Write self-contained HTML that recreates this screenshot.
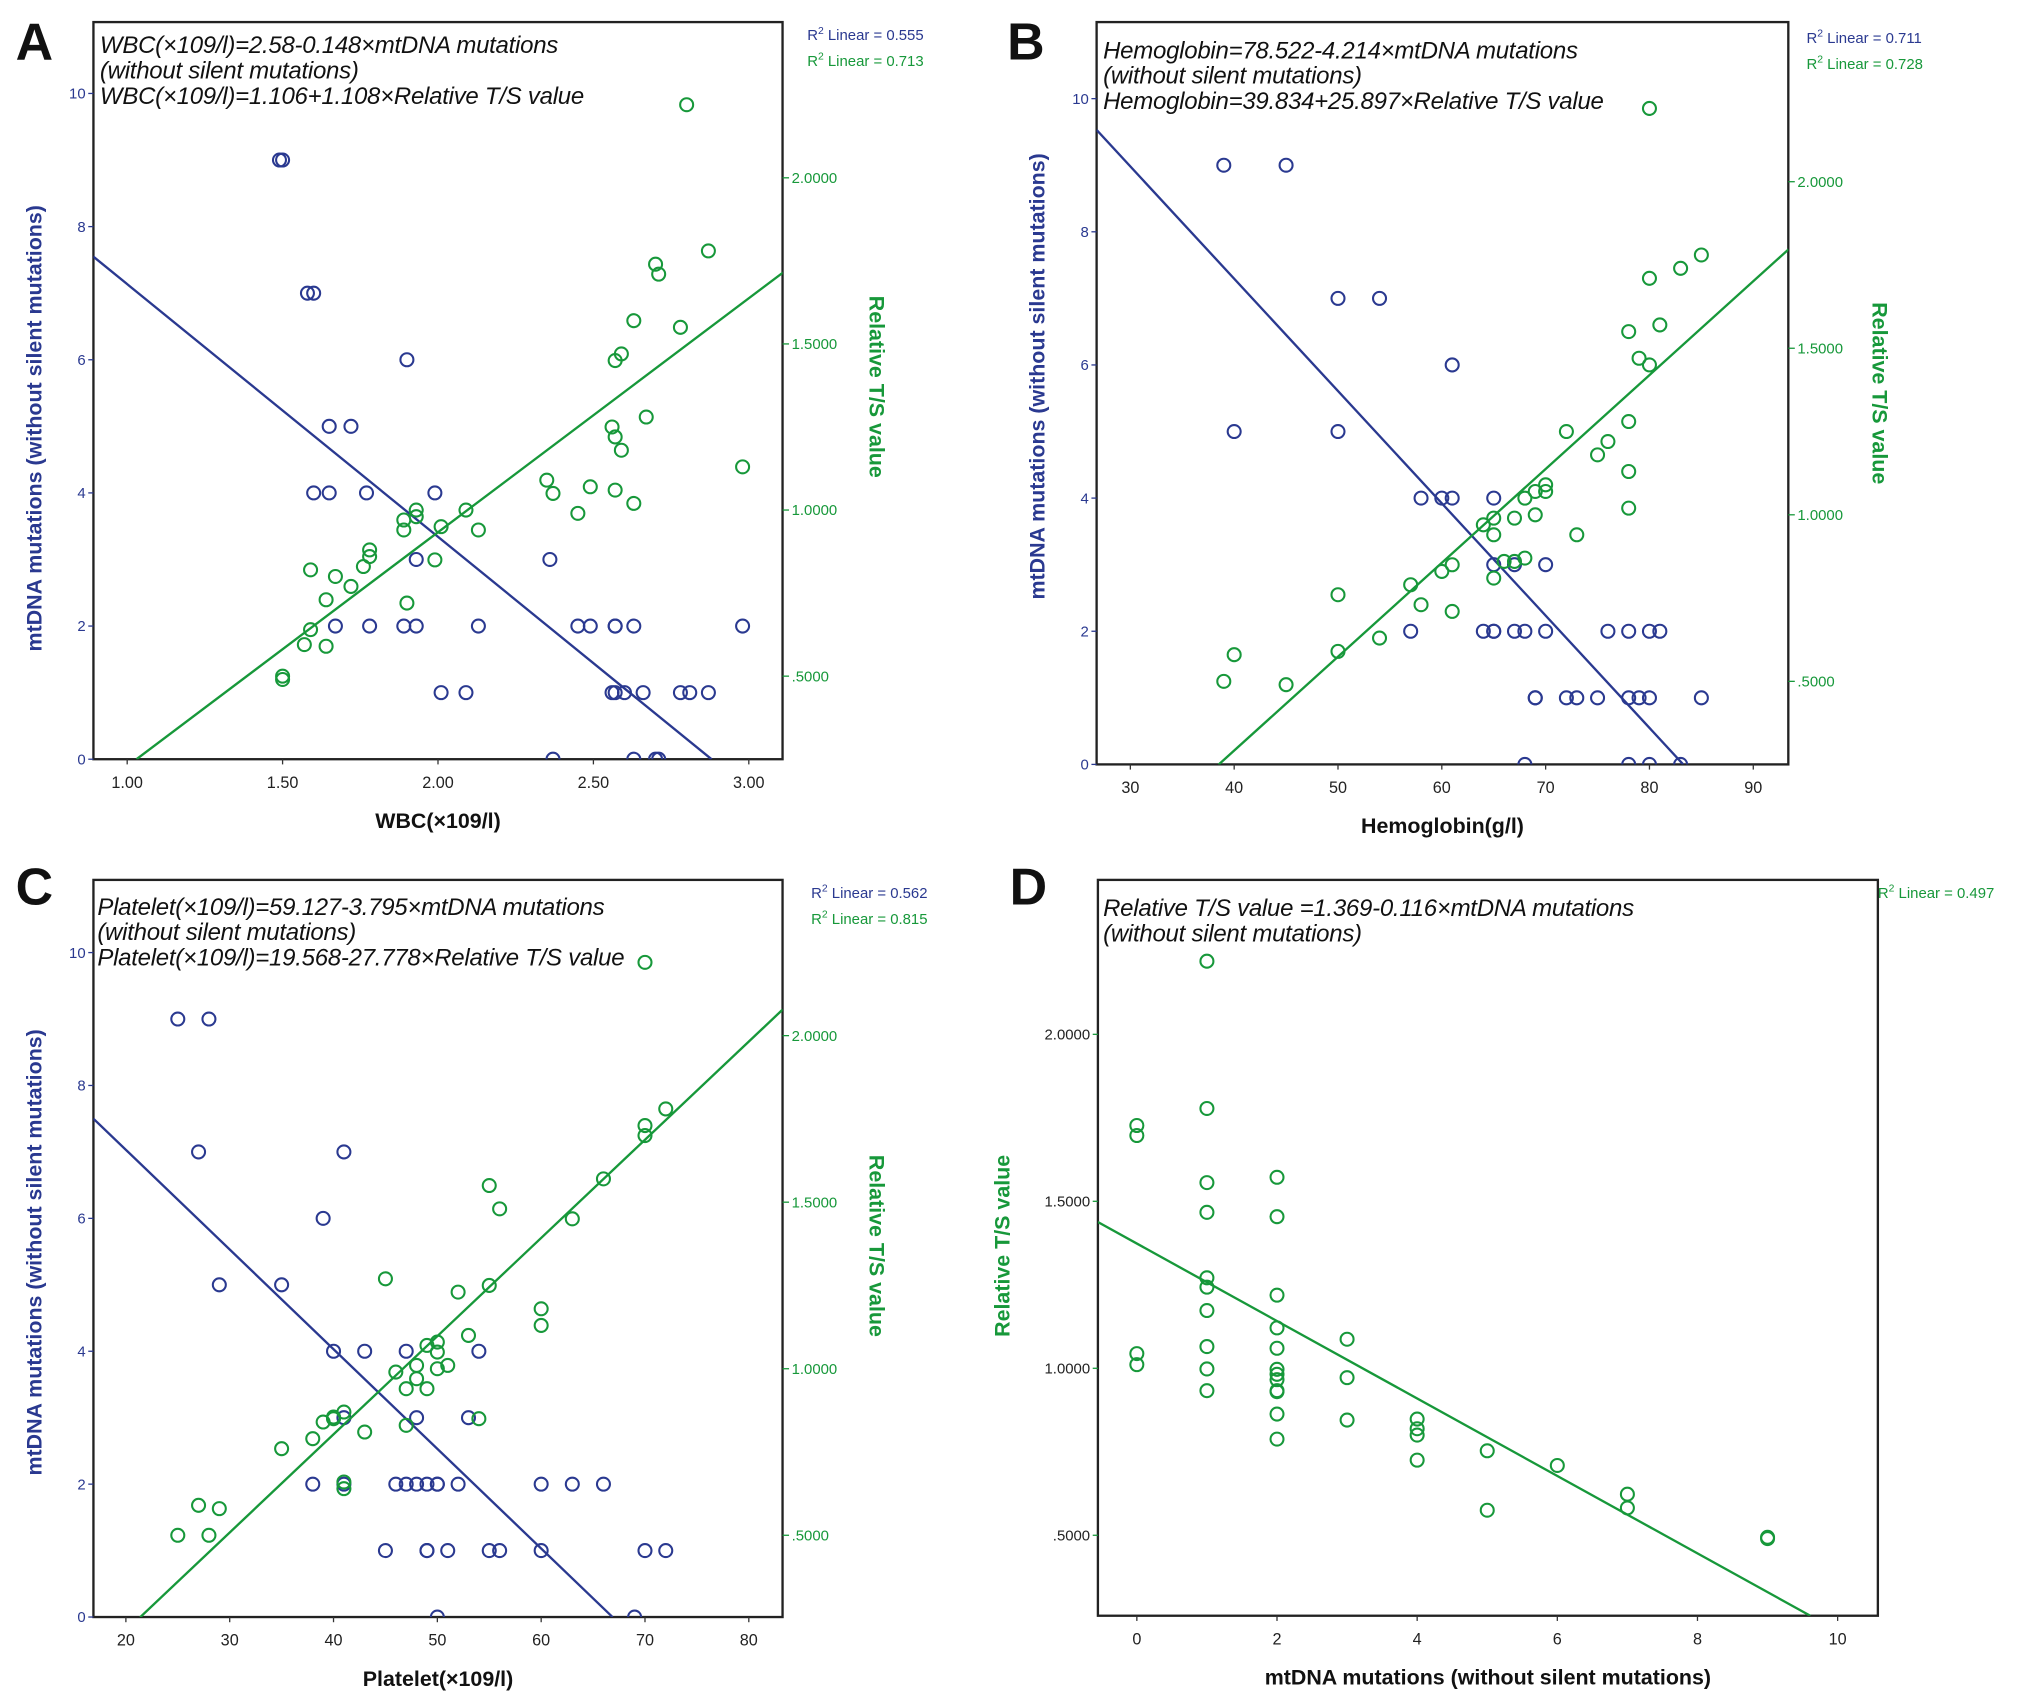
<!DOCTYPE html>
<html><head><meta charset="utf-8"><style>
html,body{margin:0;padding:0;background:#fff}
svg{display:block}
text{font-family:"Liberation Sans",sans-serif}
</style></head><body>
<svg id="chart" width="2031" height="1704" viewBox="0 0 1565 1313" xmlns="http://www.w3.org/2000/svg"></svg>
<script>
// ---- data ----
const aBlueX=[1.49,1.50,1.58,1.60,1.90,1.65,1.72,1.60,1.65,1.77,1.99,1.93,2.36,1.67,1.78,1.89,1.93,2.13,2.45,2.49,2.57,2.57,2.63,2.98,2.01,2.09,2.56,2.57,2.60,2.66,2.78,2.81,2.87,2.37,2.63,2.70,2.71];
const aBlueY=[9,9,7,7,6,5,5,4,4,4,4,3,3,2,2,2,2,2,2,2,2,2,2,2,1,1,1,1,1,1,1,1,1,0,0,0,0];
const aGreenX=[1.50,1.50,1.57,1.59,1.59,1.64,1.64,1.67,1.72,1.76,1.78,1.78,1.89,1.89,1.90,1.93,1.93,1.99,2.01,2.09,2.13,2.35,2.37,2.45,2.49,2.57,2.63,2.56,2.57,2.59,2.67,2.57,2.59,2.63,2.78,2.70,2.71,2.87,2.80,2.98];
const aGreenY=[0.50,0.49,0.595,0.64,0.82,0.59,0.73,0.80,0.77,0.83,0.86,0.88,0.94,0.97,0.72,1.0,0.98,0.85,0.95,1.00,0.94,1.09,1.05,0.99,1.07,1.06,1.02,1.25,1.22,1.18,1.28,1.45,1.47,1.57,1.55,1.74,1.71,1.78,2.22,1.13];
const bBlueX=[39,45,50,54,61,40,50,60,61,58,65,65,67,70,57,64,65,65,67,68,70,76,78,80,81,69,69,72,73,75,78,79,80,85,68,78,80,83];
const bBlueY=[9,9,7,7,6,5,5,4,4,4,4,3,3,3,2,2,2,2,2,2,2,2,2,2,2,1,1,1,1,1,1,1,1,1,0,0,0,0];
const bGreenX=[39,40,45,50,50,54,57,58,60,61,61,64,65,65,65,66,67,67,68,68,69,69,70,70,73,72,75,76,78,78,78,78,79,80,80,81,83,85,80];
const bGreenY=[0.5,0.58,0.49,0.76,0.59,0.63,0.79,0.73,0.83,0.71,0.85,0.97,0.99,0.94,0.81,0.86,0.86,0.99,0.87,1.05,1.0,1.07,1.07,1.09,0.94,1.25,1.18,1.22,1.28,1.13,1.02,1.55,1.47,1.45,1.71,1.57,1.74,1.78,2.22];
const cBlueX=[25,28,27,41,39,29,35,40,43,47,54,40,41,48,53,38,41,46,47,48,49,50,50,52,60,63,66,45,49,49,51,55,56,60,70,72,50,69];
const cBlueY=[9,9,7,7,6,5,5,4,4,4,4,3,3,3,3,2,2,2,2,2,2,2,2,2,2,2,2,1,1,1,1,1,1,1,1,1,0,0];
const cGreenX=[25,27,28,29,35,38,39,40,40,41,41,41,43,45,46,47,47,48,48,49,49,50,50,50,51,52,53,54,55,55,56,60,60,63,66,70,70,72,70];
const cGreenY=[0.5,0.59,0.5,0.58,0.76,0.79,0.84,0.85,0.855,0.87,0.64,0.66,0.81,1.27,0.99,0.94,0.83,0.97,1.01,0.94,1.07,1.05,1.08,1.0,1.01,1.23,1.10,0.85,1.55,1.25,1.48,1.18,1.13,1.45,1.57,1.73,1.70,1.78,2.22];
const dGreenX=[0,0,0,0,1,1,1,1,1,1,1,1,1,1,2,2,2,2,2,2,2,2,2,2,2,2,3,3,3,4,4,4,4,5,5,6,7,7,9,9];
const dGreenY=[1.727,1.697,1.044,1.011,2.219,1.778,1.556,1.467,1.271,1.243,1.173,1.065,0.998,0.933,1.572,1.454,1.219,1.121,1.06,0.997,0.982,0.966,0.933,0.93,0.863,0.788,1.087,0.972,0.845,0.848,0.819,0.80,0.725,0.753,0.575,0.709,0.623,0.582,0.494,0.49];
// fit lines: [x0, y0, x1, y1] in data units
const aBlueFit=[0.891,7.55,2.88,0];
const aGreenFit=[1.03,0.25,3.11,1.715];
const bBlueFit=[26.75,9.53,83.25,0];
const bGreenFit=[38.5,0.25,93.4,1.797];
const cBlueFit=[16.875,7.5,66.875,0];
const cGreenFit=[21.375,0.254,83.25,2.078];
const dGreenFit=[-0.556,1.438,9.61,0.259];
const aXTicks=["1.00","1.50","2.00","2.50","3.00"];
const bXTicks=["30","40","50","60","70","80","90"];
const cXTicks=["20","30","40","50","60","70","80"];
const dXTicks=["0","2","4","6","8","10"];
const mtTicks=["0","2","4","6","8","10"];
const tsTicks=[".5000","1.0000","1.5000","2.0000"];

const BLUE="#2a3990", GREEN="#17983a";
const svg=document.getElementById('chart');
const NS="http://www.w3.org/2000/svg";
function mk(tag,attrs,parent){const e=document.createElementNS(NS,tag);for(const k in attrs)e.setAttribute(k,attrs[k]);(parent||svg).appendChild(e);return e;}
function txt(s,attrs,parent){const e=mk('text',attrs,parent);e.textContent=s;return e;}

function linScale(d0,d1,r0,r1){return v=>r0+(v-d0)*(r1-r0)/(d1-d0);}

function panel(p){
  const g=mk('g',{});
  
  
  const L=mk('text',{x:p.letter[0],y:p.letter[1],'font-size':40,'font-weight':'bold',fill:'#111'},g);L.textContent=p.letterText;
  
  const f=p.frame;
  const fr=mk('rect',{x:f[0],y:f[1],width:f[2]-f[0],height:f[3]-f[1],fill:'#fff',stroke:'#222','stroke-width':1.8},g);
  
  const sx=p.sx;
  p.xTicks.forEach(t=>{const X=sx(parseFloat(t));
    mk('line',{x1:X,y1:f[3],x2:X,y2:f[3]+4,stroke:'#333','stroke-width':1},g);
    const e=txt(t,{x:X,y:f[3]+22,'font-size':12.5,'text-anchor':'middle',fill:'#222'},g);
    });
  const xt=txt(p.xTitle,{x:(f[0]+f[2])/2,y:f[3]+53,'font-size':16.5,'font-weight':'bold','text-anchor':'middle',fill:'#111'},g);
  
  p.leftTicks.forEach(t=>{const Y=p.syL(parseFloat(t));
    mk('line',{x1:f[0]-4,y1:Y,x2:f[0],y2:Y,stroke:p.leftColor,'stroke-width':1},g);
    const e=txt(t,{x:f[0]-6,y:Y+4,'font-size':11.5,'text-anchor':'end',fill:p.leftTickColor},g);
    });
  const lt=txt(p.leftTitle,{x:0,y:0,'font-size':16.5,'font-weight':'bold','text-anchor':'middle',fill:p.leftColor,transform:`translate(${p.leftTitlePos[0]},${p.leftTitlePos[1]}) rotate(-90)`},g);
  
  if(p.syR){
    tsTicks.forEach(t=>{const Y=p.syR(parseFloat(t));
      mk('line',{x1:f[2],y1:Y,x2:f[2]+5,y2:Y,stroke:GREEN,'stroke-width':1},g);
      const e=txt(t,{x:f[2]+7,y:Y+4,'font-size':11.5,fill:GREEN},g);
      });
    const rt=txt('Relative T/S value',{x:0,y:0,'font-size':16.5,'font-weight':'bold','text-anchor':'middle',fill:GREEN,transform:`translate(${p.rightTitlePos[0]},${p.rightTitlePos[1]}) rotate(90)`},g);
    
  }
  p.eq.forEach((s,i)=>{const e=txt(s,{x:p.eqPos[0],y:p.eqPos[1]+i*19.5,'font-size':18.5,'font-style':'italic',fill:'#111','letter-spacing':'-0.2'},g);
    });
  p.r2.forEach((r,i)=>{const e=mk('text',{x:p.r2Pos[0],y:p.r2Pos[1]+i*20,'font-size':11.5,fill:r[1]},g);
    e.innerHTML='R<tspan dy="-5" font-size="8">2</tspan><tspan dy="5"> Linear = '+r[0]+'</tspan>';
    });
  const cid='clip'+p.letterText;
  const cp=mk('clipPath',{id:cid},g);mk('rect',{x:f[0],y:f[1],width:f[2]-f[0],height:f[3]-f[1]},cp);
  const plot=mk('g',{'clip-path':`url(#${cid})`},g);
  p.series.forEach(s=>{
    const fit=s.fit;
    const ln=mk('line',{x1:sx(fit[0]),y1:s.sy(fit[1]),x2:sx(fit[2]),y2:s.sy(fit[3]),stroke:s.color,'stroke-width':1.8},plot);
    
    s.xs.forEach((x,i)=>{
      const c=mk('circle',{cx:sx(x),cy:s.sy(s.ys[i]),r:5,fill:'none',stroke:s.color,'stroke-width':1.6},plot);
      
      
    });
  });
}

(function(){
  const sx=linScale(1,3,98,577), syL=linScale(0,10,585,72), syR=linScale(0.5,2,521,137);
  panel({name:'panel-a',letterText:'A',letter:[12,46],frame:[72,17,603,585],sx,syL,syR,
    xTicks:aXTicks,xTitle:'WBC(×109/l)',leftTicks:mtTicks,leftColor:BLUE,leftTickColor:BLUE,
    leftTitle:'mtDNA mutations (without silent mutations)',leftTitlePos:[32,330],rightTitlePos:[670,298],
    eq:['WBC(×109/l)=2.58-0.148×mtDNA mutations','(without  silent mutations)','WBC(×109/l)=1.106+1.108×Relative T/S value'],eqPos:[77,41],
    r2:[['0.555',BLUE],['0.713',GREEN]],r2Pos:[622,31],
    series:[{key:'blue',xs:aBlueX,ys:aBlueY,sy:syL,color:BLUE,fit:aBlueFit},{key:'green',xs:aGreenX,ys:aGreenY,sy:syR,color:GREEN,fit:aGreenFit}]});
})();
(function(){
  const sx=linScale(30,90,871,1351), syL=linScale(0,10,589,76), syR=linScale(0.5,2,525,140);
  panel({name:'panel-b',letterText:'B',letter:[776,46],frame:[845,17,1378,589],sx,syL,syR,
    xTicks:bXTicks,xTitle:'Hemoglobin(g/l)',leftTicks:mtTicks,leftColor:BLUE,leftTickColor:BLUE,
    leftTitle:'mtDNA mutations (without silent mutations)',leftTitlePos:[805,290],rightTitlePos:[1443,303],
    eq:['Hemoglobin=78.522-4.214×mtDNA mutations','(without  silent mutations)','Hemoglobin=39.834+25.897×Relative T/S value'],eqPos:[850,45],
    r2:[['0.711',BLUE],['0.728',GREEN]],r2Pos:[1392,33],
    series:[{key:'blue',xs:bBlueX,ys:bBlueY,sy:syL,color:BLUE,fit:bBlueFit},{key:'green',xs:bGreenX,ys:bGreenY,sy:syR,color:GREEN,fit:bGreenFit}]});
})();
(function(){
  const sx=linScale(20,80,97,577), syL=linScale(0,10,1246,734), syR=linScale(0.5,2,1183,798);
  panel({name:'panel-c',letterText:'C',letter:[12,697],frame:[72,678,603,1246],sx,syL,syR,
    xTicks:cXTicks,xTitle:'Platelet(×109/l)',leftTicks:mtTicks,leftColor:BLUE,leftTickColor:BLUE,
    leftTitle:'mtDNA mutations (without silent mutations)',leftTitlePos:[32,965],rightTitlePos:[670,960],
    eq:['Platelet(×109/l)=59.127-3.795×mtDNA mutations','(without  silent mutations)','Platelet(×109/l)=19.568-27.778×Relative T/S value'],eqPos:[75,705],
    r2:[['0.562',BLUE],['0.815',GREEN]],r2Pos:[625,692],
    series:[{key:'blue',xs:cBlueX,ys:cBlueY,sy:syL,color:BLUE,fit:cBlueFit},{key:'green',xs:cGreenX,ys:cGreenY,sy:syR,color:GREEN,fit:cGreenFit}]});
})();
(function(){
  const sx=linScale(0,10,876,1416), syL=linScale(0.5,2,1183,797);
  panel({name:'panel-d',letterText:'D',letter:[778,697],frame:[846,678,1447,1245],sx,syL,syR:null,
    xTicks:dXTicks,xTitle:'mtDNA mutations  (without silent mutations)',leftTicks:tsTicks,leftColor:GREEN,leftTickColor:'#222',
    leftTitle:'Relative T/S value',leftTitlePos:[778,960],
    eq:['Relative T/S value =1.369-0.116×mtDNA mutations','(without  silent mutations)'],eqPos:[850,706],
    r2:[['0.497',GREEN]],r2Pos:[1447,692],
    series:[{key:'green',xs:dGreenX,ys:dGreenY,sy:syL,color:GREEN,fit:dGreenFit}]});
})();
</script>
</body></html>
